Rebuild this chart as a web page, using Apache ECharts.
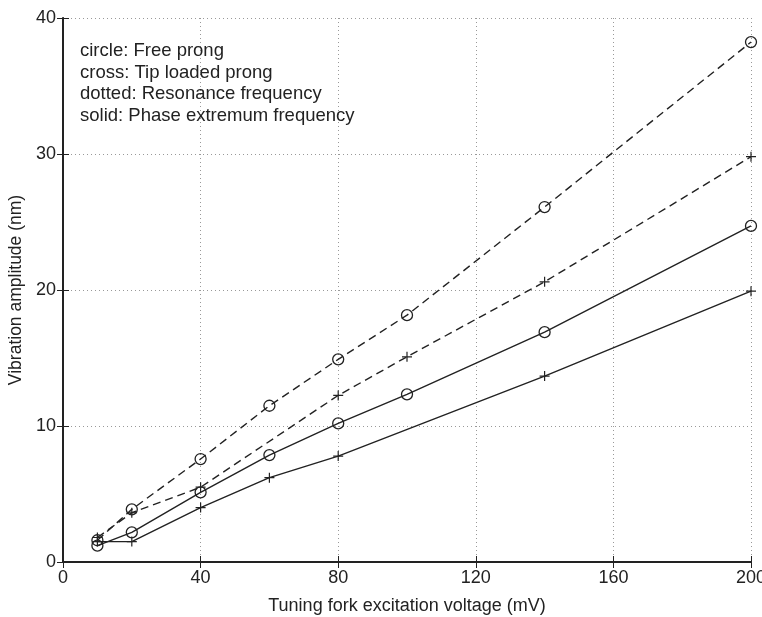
<!DOCTYPE html>
<html>
<head>
<meta charset="utf-8">
<script src="https://cdn.jsdelivr.net/npm/echarts@6/dist/echarts.min.js"></script>
<style>
  html, body { margin: 0; padding: 0; background: #fff; overflow: hidden; }
  #chart { width: 762px; height: 617px; }
</style>
</head>
<body>
<div id="chart"></div>
<script>
// Excitation voltages (mV) at which each prong configuration was measured
const voltages = [10, 20, 40, 60, 80, 100, 140, 200];
const loadedResonanceVoltages = [10, 20, 40, 80, 100, 140, 200];
const loadedPhaseVoltages = [10, 20, 40, 60, 80, 140, 200];

// Vibration amplitudes (nm)
const freeResonance = [1.6, 3.87, 7.57, 11.49, 14.9, 18.15, 26.1, 38.23];
const loadedResonance = [1.8, 3.62, 5.5, 12.25, 15.09, 20.6, 29.8];
const freePhase = [1.2, 2.18, 5.12, 7.86, 10.19, 12.33, 16.9, 24.71];
const loadedPhase = [1.5, 1.5, 4.0, 6.2, 7.79, 13.67, 19.91];

// Axis ticks
const xTicks = [0, 40, 80, 120, 160, 200];
const yTicks = [0, 10, 20, 30, 40];

const noteLines = [
  'circle: Free prong',
  'cross: Tip loaded prong',
  'dotted: Resonance frequency',
  'solid: Phase extremum frequency'
];

const ink = '#222';
const font = '"Liberation Sans", Arial, sans-serif';
const crossPath = 'path://M0,4.4H10V5.6H0Z M4.4,0H5.6V10H4.4Z';

const pairs = (xs, ys) => xs.map((x, i) => [x, ys[i]]);

function makeSeries(name, xs, ys, dashed, circle) {
  return {
    name: name,
    type: 'line',
    data: pairs(xs, ys),
    symbol: circle ? 'circle' : crossPath,
    symbolSize: circle ? 11 : 10,
    showSymbol: true,
    lineStyle: { color: ink, width: 1.4, type: dashed ? [8, 5] : 'solid' },
    itemStyle: circle
      ? { color: 'rgba(0,0,0,0)', borderColor: ink, borderWidth: 1.3 }
      : { color: ink, borderWidth: 0 },
    emphasis: { disabled: true },
    animation: false,
    z: 3
  };
}

const chart = echarts.init(document.getElementById('chart'), null, { renderer: 'canvas', width: 762, height: 617 });

const tickLabel = { color: ink, fontSize: 18, fontFamily: font };

chart.setOption({
  backgroundColor: '#fff',
  animation: false,
  grid: { left: 63, right: 11, top: 18, bottom: 55, containLabel: false, outerBoundsMode: 'none' },
  xAxis: [
    {
      type: 'value', min: xTicks[0], max: xTicks[xTicks.length - 1],
      interval: xTicks[1] - xTicks[0], position: 'bottom',
      name: 'Tuning fork excitation voltage (mV)', nameLocation: 'middle', nameGap: 35,
      nameTextStyle: { color: ink, fontSize: 18, fontFamily: font },
      axisLine: { show: true, lineStyle: { color: ink, width: 2 } },
      axisTick: { show: true, inside: true, length: 6, lineStyle: { color: ink } },
      axisLabel: Object.assign({ margin: 7 }, tickLabel),
      splitLine: { show: true, lineStyle: { color: '#999', type: [1, 3], width: 1 } }
    },
    {
      type: 'value', min: xTicks[0], max: xTicks[xTicks.length - 1],
      interval: xTicks[1] - xTicks[0], position: 'top',
      axisLine: { show: true, lineStyle: { color: ink, width: 1 } },
      axisTick: { show: true, inside: true, length: 6, lineStyle: { color: ink } },
      axisLabel: { show: false },
      splitLine: { show: false }
    }
  ],
  yAxis: [
    {
      type: 'value', min: yTicks[0], max: yTicks[yTicks.length - 1],
      interval: yTicks[1] - yTicks[0], position: 'left',
      name: 'Vibration amplitude (nm)', nameLocation: 'middle', nameGap: 37,
      nameTextStyle: { color: ink, fontSize: 17.5, fontFamily: font },
      axisLine: { show: true, lineStyle: { color: ink, width: 2 } },
      axisTick: { show: true, inside: true, length: 6, lineStyle: { color: ink } },
      axisLabel: Object.assign({ margin: 7 }, tickLabel),
      splitLine: { show: true, lineStyle: { color: '#999', type: [1, 3], width: 1 } }
    },
    {
      type: 'value', min: yTicks[0], max: yTicks[yTicks.length - 1],
      interval: yTicks[1] - yTicks[0], position: 'right',
      axisLine: { show: true, lineStyle: { color: ink, width: 1 } },
      axisTick: { show: true, inside: true, length: 6, lineStyle: { color: ink } },
      axisLabel: { show: false },
      splitLine: { show: false }
    }
  ],
  graphic: [
    {
      type: 'text', left: 80, top: 40, z: 10,
      style: {
        text: noteLines.join('\n'),
        fill: ink, font: '18.5px ' + font, lineHeight: 21.7
      }
    }
  ],
  series: [
    makeSeries('Free prong, resonance', voltages, freeResonance, true, true),
    makeSeries('Tip loaded prong, resonance', loadedResonanceVoltages, loadedResonance, true, false),
    makeSeries('Free prong, phase extremum', voltages, freePhase, false, true),
    makeSeries('Tip loaded prong, phase extremum', loadedPhaseVoltages, loadedPhase, false, false)
  ]
});
</script>
</body>
</html>
